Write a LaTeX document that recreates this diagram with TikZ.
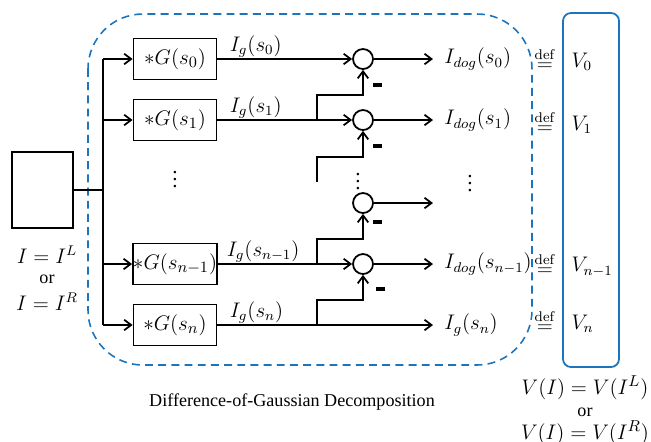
\documentclass[tikz,border=0pt]{standalone}
\usepackage[no-math]{fontspec}
\setmainfont{Liberation Serif}
\usepackage{amsmath}
\usepackage{xcolor}
\usetikzlibrary{positioning}
\usetikzlibrary{arrows.meta}
\definecolor{dogblue}{RGB}{28,117,188}

\begin{document}
\begin{tikzpicture}[
    x=0.02cm, y=-0.02cm,
    line width=1pt,
    >={Straight Barb[length=4pt,width=6pt]},
    every node/.style = {
        inner sep=1pt, font=\fontsize{12}{14}\selectfont
    },
    gbox/.style = {draw, minimum width=1.66cm, minimum height=0.82cm, inner sep=0pt,
        font=\fontsize{12.5}{15}\selectfont},
    sumnode/.style = {draw, circle, minimum size=0.4cm, inner sep=0pt},
    negbar/.style = {fill, minimum width=0.18cm, minimum height=0.07cm, inner sep=0pt},
    plain/.style = {font=\fontsize{10.3}{12}\selectfont},
    bigmath/.style = {font=\fontsize{13}{15}\selectfont}
]
\useasboundingbox (0,0) rectangle (651,441);

\draw[dogblue, line width=0.9pt, dash pattern=on 4.5pt off 3pt, rounded corners=1.1cm]
    (88,14) rectangle (532,365);
\draw[dogblue, line width=1pt, rounded corners=0.16cm] (563,13) rectangle (619,367);

\node[draw, minimum width=1.22cm, minimum height=1.52cm] (img) at (42.5,190) {};
\coordinate (split) at (103,190);

\node[gbox] (g0) at (175,59) {$*G(s_0)$};
\node[gbox] (g1) at (175,120) {$*G(s_1)$};
\node[gbox] (gn1) at (175,264) {$*G(s_{n-1})$};
\node[gbox] (gn) at (175,325) {$*G(s_n)$};

\node[sumnode] (c0) at (363,59) {};
\node[sumnode] (c1) at (363,120) {};
\node[sumnode] (c2) at (363,203) {};
\node[sumnode] (c3) at (363,264) {};

\coordinate (b0) at (317,120);
\coordinate (b1) at (317,182);
\coordinate (b2) at (317,264);
\coordinate (b3) at (317,325);

\coordinate (out0) at (433,59);
\coordinate (out1) at (433,120);
\coordinate (out2) at (433,203);
\coordinate (out3) at (433,264);
\coordinate (outn) at (433,325);

\draw (img.east) -- (split);
\draw (split |- g0.west) -- (split |- gn.west);
\foreach \g in {g0,g1,gn1,gn}
    \draw[->] (split |- \g.west) -- (\g.west);

\draw[->] (g0.east) -- (c0.west);
\draw[->] (g1.east) -- (c1.west);
\draw[->] (gn1.east) -- (c3.west);
\draw[->] (gn.east) -- (outn);

\foreach \i in {0,...,3} {
    \draw[->] (b\i) -- ++(0,-25) -| (c\i.south);
    \draw[->] (c\i.east) -- (out\i);
}

\node[negbar] (m0) at (377,85) {};
\node[negbar] (m1) at (377,146) {};
\node[negbar] (m2) at (377,222) {};
\node[negbar] (m3) at (380,289) {};

\node[anchor=south west, inner sep=0pt] (l0) at (229,58) {$I_g(s_0)$};
\node[anchor=south west, inner sep=0pt] (l1) at (229,119) {$I_g(s_1)$};
\node[anchor=south west, inner sep=0pt] (l3) at (226,263) {$I_g(s_{n-1})$};
\node[anchor=south west, inner sep=0pt] (ln) at (229,324) {$I_g(s_n)$};

\node[right=5pt of out0] (d0) {$I_{dog}(s_0)$};
\node[right=5pt of out1] (d1) {$I_{dog}(s_1)$};
\node[right=5pt of out3] (d3) {$I_{dog}(s_{n-1})$};
\node[right=5pt of outn] (dn) {$I_g(s_n)$};

\node (v1) at (175,174) {$\vdots$};
\node (v2) at (358,176) {$\vdots$};
\node (v3) at (470,178) {$\vdots$};

\foreach \y/\v [count=\i] in {59/V_0, 122/V_1, 264/V_{n-1}, 321/V_n} {
    \node (q\i) at (545,\y) {$\stackrel{\mathrm{def}}{=}$};
    \node[anchor=west] (V\i) at (569,\y+3) {$\v$};
}

\node (il) at (47,255) {$I=I^L$};
\node[plain] (ior) at (47,279) {or};
\node (ir) at (47,302) {$I=I^R$};

\node[plain] (cap) at (292,402) {Difference-of-Gaussian Decomposition};

\node[bigmath] (vl) at (585,388) {$V(I)=V(I^L)$};
\node[plain] (vor) at (585,412) {or};
\node[bigmath] (vr) at (585,433) {$V(I)=V(I^R)$};
\end{tikzpicture}
\end{document}
